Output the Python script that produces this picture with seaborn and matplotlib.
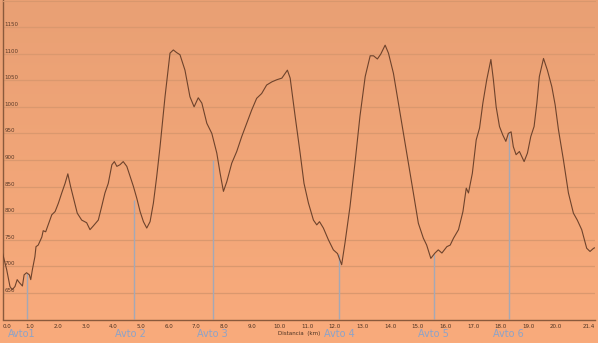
import numpy as np
import pandas as pd
import matplotlib
matplotlib.use("Agg")
import matplotlib.pyplot as plt
from matplotlib.colors import LinearSegmentedColormap
import seaborn as sns

# ---- data ----
distance_km = [0.00, 0.15, 0.27, 0.35, 0.45, 0.53, 0.60, 0.72, 0.78, 0.87, 0.97, 1.02, 1.08, 1.17, 1.21,
               1.29, 1.42, 1.47, 1.56, 1.65, 1.78, 1.90, 2.02, 2.14, 2.26, 2.36, 2.46, 2.58, 2.70, 2.86,
               3.04, 3.16, 3.28, 3.46, 3.58, 3.70, 3.82, 3.95, 4.04, 4.13, 4.24, 4.36, 4.49, 4.61, 4.73,
               4.85, 4.97, 5.09, 5.21, 5.33, 5.45, 5.57, 5.69, 5.87, 6.05, 6.17, 6.29, 6.41, 6.59, 6.77,
               6.92, 7.07, 7.20, 7.38, 7.56, 7.74, 7.86, 7.98, 8.10, 8.28, 8.46, 8.64, 8.82, 9.00, 9.18,
               9.36, 9.54, 9.73, 9.91, 10.09, 10.29, 10.39, 10.57, 10.75, 10.89, 11.05, 11.23, 11.35,
               11.45, 11.59, 11.77, 11.95, 12.10, 12.25, 12.37, 12.55, 12.73, 12.91, 13.10, 13.28, 13.40,
               13.54, 13.66, 13.82, 13.94, 14.12, 14.30, 14.48, 14.66, 14.84, 15.02, 15.20, 15.32, 15.47,
               15.62, 15.74, 15.87, 16.05, 16.17, 16.29, 16.47, 16.63, 16.75, 16.83, 16.97, 17.11, 17.23,
               17.35, 17.49, 17.64, 17.73, 17.83, 17.95, 18.07, 18.18, 18.27, 18.37, 18.45, 18.55, 18.67,
               18.84, 18.96, 19.08, 19.20, 19.30, 19.39, 19.54, 19.68, 19.84, 19.96, 20.08, 20.26, 20.44,
               20.62, 20.76, 20.92, 21.10, 21.22, 21.35, 21.40]
elevation_m = [725, 694, 662, 656, 662, 675, 670, 663, 684, 688, 684, 675, 694, 718, 737,
               740, 755, 767, 765, 778, 797, 803, 819, 838, 856, 874, 850, 825, 800, 787,
               782, 769, 776, 787, 812, 838, 856, 891, 897, 888, 891, 897, 888, 869, 850,
               828, 803, 784, 772, 784, 819, 869, 925, 1019, 1101, 1107, 1102, 1098, 1069, 1019,
               1000, 1017, 1007, 969, 950, 913, 875, 841, 859, 894, 916, 944, 969, 994, 1016,
               1025, 1041, 1047, 1051, 1054, 1069, 1054, 982, 913, 856, 819, 787, 778,
               784, 772, 750, 731, 724, 703, 744, 812, 894, 982, 1057, 1096, 1096,
               1090, 1099, 1116, 1101, 1063, 1007, 950, 894, 838, 781, 753, 740, 715,
               725, 731, 725, 737, 740, 753, 769, 803, 847, 838, 875, 938, 960,
               1007, 1051, 1089, 1051, 1000, 963, 947, 935, 950, 953, 925, 910, 916,
               897, 913, 944, 963, 1007, 1057, 1091, 1069, 1038, 1004, 957, 900, 838,
               800, 787, 769, 734, 728, 734, 735]

stop_names = ["Avto1", "Avto 2", "Avto 3", "Avto 4", "Avto 5", "Avto 6"]
stop_km = [0.90, 4.75, 7.60, 12.17, 15.58, 18.30]
stop_top_m = [688, 825, 900, 723, 723, 951]
stop_label_km = [0.69, 4.61, 7.57, 12.15, 15.55, 18.26]

y_ticks = [650, 700, 750, 800, 850, 900, 950, 1000, 1050, 1100, 1150]
x_ticks = [0.0, 1.0, 2.0, 3.0, 4.0, 5.0, 6.0, 7.0, 8.0, 9.0, 10.0, 11.0, 12.0, 13.0,
           14.0, 15.0, 16.0, 17.0, 18.0, 19.0, 20.0, 21.4]
x_label = "Distancia  (km)"

# ---- style ----
sns.set_theme(style="white")
plt.rcParams['font.family'] = ['DejaVu Sans']

W, H = 598, 343
fig = plt.figure(figsize=(W / 100, H / 100), dpi=100)

# background gradient across the whole figure
bg_ax = fig.add_axes([0, 0, 1, 1], zorder=-10)
cmap = LinearSegmentedColormap.from_list("bg", ["#E9A074", "#F9AB7C"])
grad = np.linspace(0, 1, 256).reshape(-1, 1)
bg_ax.imshow(grad, aspect="auto", cmap=cmap, extent=[0, 1, 0, 1], origin="upper")
bg_ax.set_axis_off()

ax = fig.add_axes([2.5 / W, 23.5 / H, (595 - 2.5) / W, 319 / H])
ax.set_facecolor("none")

df = pd.DataFrame({"km": distance_km, "m": elevation_m})
sns.lineplot(data=df, x="km", y="m", ax=ax, color="#6E432C", linewidth=0.8, zorder=3)

# stop markers
for k, top in zip(stop_km, stop_top_m):
    ax.vlines(k, 600, top, color="#A4A8B6", linewidth=1.0, zorder=2)

ax.set_xlim(0, 21.4)
ax.set_ylim(600, 1200)

# gridlines
for v in y_ticks:
    ax.axhline(v, color="#DA986E", linewidth=0.9, zorder=1)

ax.set_yticks(y_ticks)
ax.set_yticklabels([str(v) for v in y_ticks], ha="left", va="bottom", fontsize=4, color="#5A3A28")
ax.tick_params(axis="y", length=0, pad=-1.2)

ax.set_xticks(x_ticks)
xt = ax.set_xticklabels([f"{v:.1f}" for v in x_ticks], fontsize=4, color="#4A3020")
xt[0].set_ha("left")
xt[-1].set_ha("right")
ax.tick_params(axis="x", length=2, width=0.6, color="#7A5A44", pad=1.5)
ax.set_xlabel(x_label, fontsize=4, color="#4A3020", labelpad=1.5)
ax.set_ylabel("")

for s in ["left", "bottom"]:
    ax.spines[s].set_color("#8A5A3C")
    ax.spines[s].set_linewidth(1.0)
ax.spines["top"].set_color("#D8976D")
ax.spines["top"].set_linewidth(0.8)
ax.spines["right"].set_visible(False)

for name, k in zip(stop_names, stop_label_km):
    ax.text(k, -0.045, name, transform=ax.get_xaxis_transform(), ha="center", va="center",
            fontsize=7, color="#8DA3C8")

fig.savefig("out.png", dpi=100)
